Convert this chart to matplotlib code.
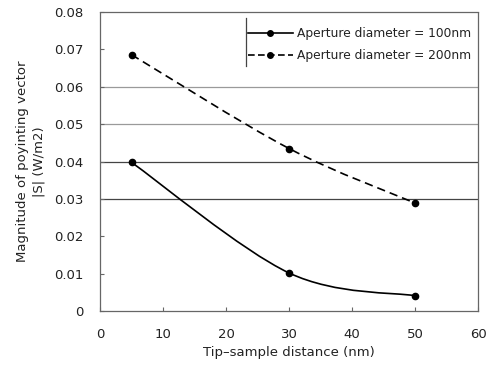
import matplotlib
matplotlib.use("Agg")
import matplotlib.pyplot as plt
import numpy as np
from matplotlib.path import Path
from matplotlib.patches import PathPatch
from matplotlib.lines import Line2D

# data
distance = [5, 30, 50]
s_100nm = [0.0398, 0.0102, 0.0041]
s_200nm = [0.0686, 0.0435, 0.0289]
labels = ["Aperture diameter = 100nm", "Aperture diameter = 200nm"]
x_ticks = [0, 10, 20, 30, 40, 50, 60]
y_ticks = [0, 0.01, 0.02, 0.03, 0.04, 0.05, 0.06, 0.07, 0.08]
y_ticklabels = ["0", "0.01", "0.02", "0.03", "0.04", "0.05", "0.06", "0.07", "0.08"]
grid_levels = [0.03, 0.04, 0.05, 0.06]

grid_colors = ["#444444", "#444444", "#9a9a9a", "#9a9a9a"]

plt.rcParams['font.family'] = ['DejaVu Sans']

fig = plt.figure(figsize=(4.95, 3.66), dpi=100)
ax = fig.add_axes([0.202, 0.150, 0.764, 0.817])


def smooth_path(xs, ys):
    pts = np.column_stack([xs, ys]).astype(float)
    n = len(pts)
    verts = [pts[0]]
    codes = [Path.MOVETO]
    for i in range(n - 1):
        p_prev = pts[max(i - 1, 0)]
        p0 = pts[i]
        p1 = pts[i + 1]
        p_next = pts[min(i + 2, n - 1)]
        c1 = p0 + (p1 - p_prev) / 6.0
        c2 = p1 - (p_next - p0) / 6.0
        verts += [c1, c2, p1]
        codes += [Path.CURVE4] * 3
    return Path(verts, codes)


for lvl, gc in zip(grid_levels, grid_colors):
    ax.axhline(lvl, color=gc, lw=0.9, zorder=1)

for ys, ls in [(s_100nm, "-"), (s_200nm, (0, (5, 3)))]:
    patch = PathPatch(smooth_path(distance, ys), facecolor="none",
                      edgecolor="black", lw=1.2, linestyle=ls, zorder=3)
    ax.add_patch(patch)
    ax.plot(distance, ys, linestyle="none", marker="o", ms=4.5,
            color="black", zorder=4)

ax.set_xlim(0, 60)
ax.set_ylim(0, 0.08)
ax.set_xticks(x_ticks)
ax.set_yticks(y_ticks)
ax.set_yticklabels(y_ticklabels)
ax.tick_params(axis="both", direction="in", length=3, width=0.8,
               color="#666666", labelsize=9.5, labelcolor="#222222")
ax.tick_params(axis="x", pad=12)
ax.tick_params(axis="y", pad=12)

for sp in ax.spines.values():
    sp.set_linestyle((0, (1, 1)))
    sp.set_color("#666666")
    sp.set_linewidth(0.9)

ax.set_xlabel("Tip\u2013sample distance (nm)", fontsize=9.5, color="#222222", labelpad=4)
ax.set_ylabel("Magnitude of poyinting vector\n|S| (W/m2)", fontsize=9.5,
              color="#222222", labelpad=6, linespacing=1.35)

handles = [
    Line2D([], [], color="black", lw=1.2, ls="-", marker="o", ms=4),
    Line2D([], [], color="black", lw=1.2, ls=(0, (4, 2)), marker="o", ms=4),
]
leg = ax.legend(handles, labels, loc="upper right", frameon=True,
                fontsize=8.8, handlelength=3.7, handletextpad=0.3,
                borderaxespad=0.2, labelspacing=0.78,
                bbox_to_anchor=(1.0, 0.975))
leg.get_frame().set_edgecolor("none")
leg.get_frame().set_facecolor("white")
leg.get_frame().set_alpha(1)
leg.set_zorder(5)
for t in leg.get_texts():
    t.set_color("#222222")
ax.add_line(Line2D([0.386, 0.386], [0.82, 0.98], transform=ax.transAxes,
                   color="#444444", lw=0.9, zorder=6))

fig.savefig("out.png", dpi=100)
